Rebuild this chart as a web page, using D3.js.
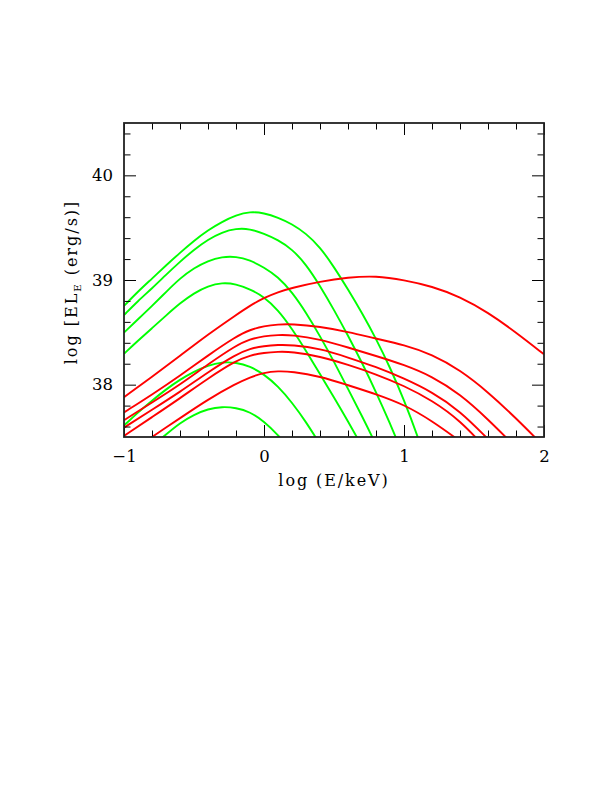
<!DOCTYPE html>
<html>
<head>
<meta charset="utf-8">
<script src="https://cdn.jsdelivr.net/npm/d3@7"></script>
<style>
  html, body { margin: 0; padding: 0; background: #fff; }
  svg { display: block; }
  text { font-family: "DejaVu Serif", serif; fill: #000; }
</style>
</head>
<body>
<svg id="chart" width="612" height="792"></svg>
<script>
// ---- tick values ----
const xMajorTicks = [-1, 0, 1, 2];
const xMinorTicks = [-0.8, -0.6, -0.4, -0.2, 0.2, 0.4, 0.6, 0.8, 1.2, 1.4, 1.6, 1.8];
const yMajorTicks = [38, 39, 40];
const yMinorTicks = [37.6, 37.8, 38.2, 38.4, 38.6, 38.8, 39.2, 39.4, 39.6, 39.8, 40.2, 40.4];

// ---- green curves: [log E, log EL_E] ----
const green1 = [[-1,38.752],[-0.9,38.89],[-0.8,39.013],[-0.7,39.14],[-0.6,39.26],[-0.5,39.375],[-0.4,39.476],[-0.3,39.556],[-0.2,39.619],[-0.1,39.654],[0,39.64],[0.1,39.598],[0.2,39.535],[0.3,39.445],[0.4,39.315],[0.5,39.125],[0.6,38.91],[0.7,38.685],[0.8,38.44],[0.9,38.165],[1.0,37.855],[1.1,37.5],[1.2,37.1]];
const green2 = [[-1,38.665],[-0.9,38.80],[-0.8,38.92],[-0.7,39.05],[-0.6,39.175],[-0.5,39.29],[-0.4,39.387],[-0.3,39.457],[-0.2,39.492],[-0.1,39.489],[0,39.443],[0.1,39.383],[0.2,39.295],[0.3,39.15],[0.4,38.945],[0.5,38.715],[0.6,38.47],[0.7,38.21],[0.8,37.93],[0.9,37.63],[1.0,37.31]];
const green3 = [[-1,38.498],[-0.9,38.625],[-0.8,38.752],[-0.7,38.885],[-0.6,39.016],[-0.5,39.115],[-0.4,39.184],[-0.3,39.222],[-0.2,39.225],[-0.1,39.19],[0,39.12],[0.1,39.03],[0.2,38.885],[0.3,38.69],[0.4,38.465],[0.5,38.22],[0.6,37.96],[0.7,37.70],[0.8,37.43],[0.9,37.12]];
const green4 = [[-1,38.295],[-0.9,38.42],[-0.8,38.54],[-0.7,38.66],[-0.6,38.778],[-0.5,38.875],[-0.4,38.943],[-0.3,38.975],[-0.2,38.962],[-0.1,38.912],[0,38.84],[0.1,38.715],[0.2,38.535],[0.3,38.325],[0.4,38.10],[0.5,37.88],[0.6,37.65],[0.7,37.41]];
const green5 = [[-1,37.61],[-0.9,37.735],[-0.8,37.848],[-0.7,37.955],[-0.6,38.048],[-0.5,38.125],[-0.4,38.185],[-0.3,38.216],[-0.2,38.213],[-0.1,38.175],[0,38.10],[0.1,37.985],[0.2,37.83],[0.3,37.645],[0.4,37.43]];
const green6 = [[-0.8,37.41],[-0.7,37.525],[-0.6,37.635],[-0.5,37.714],[-0.4,37.768],[-0.3,37.79],[-0.2,37.78],[-0.1,37.74],[0,37.65],[0.1,37.52],[0.2,37.36]];

// ---- red curves ----
const red1 = [[-1,37.88],[-0.8,38.075],[-0.6,38.275],[-0.4,38.48],[-0.2,38.665],[-0.1,38.755],[0,38.83],[0.1,38.885],[0.2,38.925],[0.4,38.985],[0.6,39.025],[0.8,39.04],[1.0,39.0],[1.2,38.94],[1.4,38.84],[1.6,38.69],[1.8,38.50],[2.0,38.29]];
const red2 = [[-1,37.735],[-0.8,37.905],[-0.6,38.085],[-0.4,38.28],[-0.2,38.46],[-0.1,38.525],[0,38.56],[0.1,38.576],[0.2,38.58],[0.4,38.555],[0.6,38.505],[0.8,38.44],[1.0,38.38],[1.2,38.29],[1.4,38.14],[1.6,37.93],[1.8,37.68],[2.0,37.41]];
const red3 = [[-1,37.66],[-0.8,37.83],[-0.6,38.0],[-0.4,38.195],[-0.2,38.375],[-0.1,38.435],[0,38.465],[0.1,38.475],[0.2,38.475],[0.4,38.435],[0.6,38.355],[0.8,38.275],[1.0,38.19],[1.2,38.08],[1.4,37.91],[1.6,37.67],[1.8,37.40]];
const red4 = [[-1,37.59],[-0.8,37.76],[-0.6,37.93],[-0.4,38.12],[-0.2,38.29],[-0.1,38.345],[0,38.37],[0.1,38.38],[0.2,38.38],[0.4,38.345],[0.6,38.26],[0.8,38.17],[1.0,38.06],[1.2,37.93],[1.4,37.75],[1.6,37.48]];
const red5 = [[-1,37.51],[-0.8,37.69],[-0.6,37.87],[-0.4,38.06],[-0.2,38.23],[-0.1,38.28],[0,38.305],[0.1,38.315],[0.2,38.315],[0.4,38.27],[0.6,38.19],[0.8,38.10],[1.0,37.99],[1.2,37.85],[1.4,37.66],[1.6,37.37]];
const red6 = [[-0.9,37.41],[-0.8,37.5],[-0.7,37.59],[-0.6,37.68],[-0.4,37.86],[-0.2,38.01],[-0.1,38.07],[0,38.115],[0.1,38.13],[0.2,38.125],[0.4,38.08],[0.6,37.995],[0.8,37.91],[1.0,37.81],[1.2,37.655],[1.4,37.46]];

const greenCurves = [green1, green2, green3, green4, green5, green6];
const redCurves = [red1, red2, red3, red4, red5, red6];

// ---- layout ----
const L = 124, R = 544, T = 123, B = 437;
const svg = d3.select("#chart");
const x = d3.scaleLinear().domain([-1, 2]).range([L, R]);
const y = d3.scaleLinear().domain([37.5, 40.5]).range([B, T]);

svg.append("defs").append("clipPath").attr("id", "plotclip")
  .append("rect").attr("x", L).attr("y", T).attr("width", R - L).attr("height", B - T);

const line = d3.line().x(d => x(d[0])).y(d => y(d[1])).curve(d3.curveBasis);

const plot = svg.append("g").attr("clip-path", "url(#plotclip)");
plot.selectAll("path.g").data(greenCurves).join("path")
  .attr("class", "g").attr("d", line)
  .attr("fill", "none").attr("stroke", "#00ff00").attr("stroke-width", 1.9)
  .attr("stroke-linejoin", "round");
plot.selectAll("path.r").data(redCurves).join("path")
  .attr("class", "r").attr("d", line)
  .attr("fill", "none").attr("stroke", "#ff0000").attr("stroke-width", 1.9)
  .attr("stroke-linejoin", "round");

// ---- axes (inward ticks on all four sides) ----
const MAJ = 12, MIN = 6.5;
function styleAxis(g) {
  g.select(".domain").remove();
  g.selectAll(".tick line").attr("stroke", "#000").attr("stroke-width", 1);
}
svg.append("g").attr("transform", `translate(0,${B})`)
  .call(d3.axisBottom(x).tickValues(xMinorTicks).tickSize(-MIN).tickFormat(""))
  .call(styleAxis);
svg.append("g").attr("transform", `translate(0,${B})`)
  .call(d3.axisBottom(x).tickValues(xMajorTicks).tickSize(-MAJ).tickPadding(13).tickFormat(d3.format("d")))
  .call(styleAxis)
  .call(g => g.selectAll("text").attr("font-size", 16.5).attr("font-family", "DejaVu Serif"));
svg.append("g").attr("transform", `translate(0,${T})`)
  .call(d3.axisTop(x).tickValues(xMinorTicks).tickSize(-MIN).tickFormat(""))
  .call(styleAxis);
svg.append("g").attr("transform", `translate(0,${T})`)
  .call(d3.axisTop(x).tickValues(xMajorTicks).tickSize(-MAJ).tickFormat(""))
  .call(styleAxis);
svg.append("g").attr("transform", `translate(${L},0)`)
  .call(d3.axisLeft(y).tickValues(yMinorTicks).tickSize(-MIN).tickFormat(""))
  .call(styleAxis);
svg.append("g").attr("transform", `translate(${L},0)`)
  .call(d3.axisLeft(y).tickValues(yMajorTicks).tickSize(-MAJ).tickPadding(11).tickFormat(d3.format("d")))
  .call(styleAxis)
  .call(g => g.selectAll("text").attr("font-size", 16.5).attr("font-family", "DejaVu Serif"));
svg.append("g").attr("transform", `translate(${R},0)`)
  .call(d3.axisRight(y).tickValues(yMinorTicks).tickSize(-MIN).tickFormat(""))
  .call(styleAxis);
svg.append("g").attr("transform", `translate(${R},0)`)
  .call(d3.axisRight(y).tickValues(yMajorTicks).tickSize(-MAJ).tickFormat(""))
  .call(styleAxis);

// frame
svg.append("rect").attr("x", L).attr("y", T).attr("width", R - L).attr("height", B - T)
  .attr("fill", "none").attr("stroke", "#222").attr("stroke-width", 1.8);

// axis titles
svg.append("text").attr("x", (L + R) / 2).attr("y", 486)
  .attr("text-anchor", "middle").attr("font-size", 16).attr("letter-spacing", 1.9)
  .text("log (E/keV)");
const yt = svg.append("text").attr("transform", `translate(77,${(T + B) / 2 + 2}) rotate(-90)`)
  .attr("text-anchor", "middle").attr("font-size", 16).attr("letter-spacing", 2);
yt.append("tspan").text("log [EL");
yt.append("tspan").attr("font-size", 10).attr("dy", 4).text("E");
yt.append("tspan").attr("dy", -4).text(" (erg/s)]");
</script>
</body>
</html>
